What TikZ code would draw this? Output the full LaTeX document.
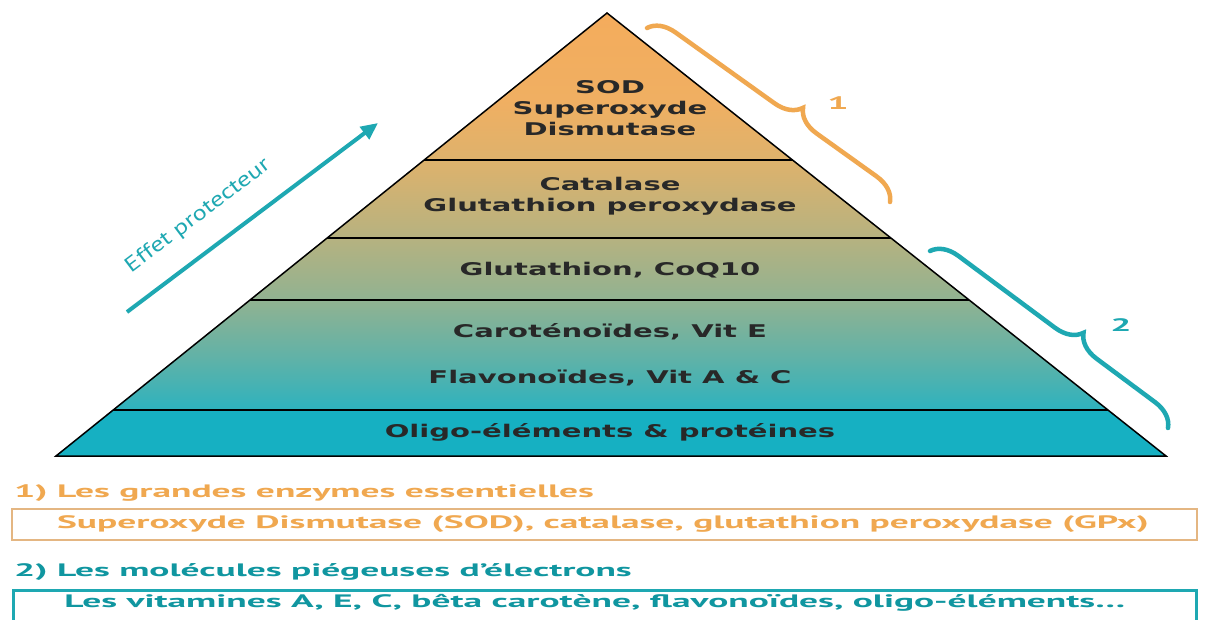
\documentclass[tikz,border=0pt]{standalone}
\usepackage{fontspec}
\usepackage{xcolor}
\usepackage{tikz}
\usetikzlibrary{calc,decorations.pathreplacing,arrows.meta}
\newfontfamily\pyrfont[FakeStretch=1.66]{DejaVu Sans}
\newfontfamily\legfont[FakeStretch=2.08]{PT Sans}
\newfontfamily\arrfont[FakeStretch=1.25]{PT Sans}
\definecolor{pyrtop}{RGB}{244,172,92}
\definecolor{pyrsod}{RGB}{240,175,98}
\definecolor{pyrcat}{RGB}{222,178,108}
\definecolor{pyrglu}{RGB}{182,178,128}
\definecolor{pyrcar}{RGB}{145,178,145}
\definecolor{pyrfla}{RGB}{95,178,168}
\definecolor{pyrlow}{RGB}{45,178,190}
\definecolor{pyrbase}{RGB}{22,176,194}
\definecolor{enzorange}{RGB}{240,168,80}
\definecolor{boxorange}{RGB}{228,182,130}
\definecolor{molteal}{RGB}{16,150,160}
\definecolor{boxteal}{RGB}{30,168,178}
\definecolor{textgrey}{RGB}{40,40,40}
\pgfdeclareverticalshading{pyrfade}{100bp}{color(0bp)=(pyrlow); color(25bp)=(pyrlow);
    color(31.4bp)=(pyrfla); color(38.9bp)=(pyrcar); color(46.7bp)=(pyrglu);
    color(56.5bp)=(pyrcat); color(64bp)=(pyrsod); color(75bp)=(pyrtop); color(100bp)=(pyrtop)}

\begin{document}
\begin{tikzpicture}[x=1pt,y=-1pt,
        level/.style={font=\pyrfont\bfseries\fontsize{17.5}{21}\selectfont,text=textgrey,align=center},
        bandline/.style={line width=1.2pt,black},
        bracestyle/.style={decorate,decoration={brace,amplitude=26pt,aspect=0.58},line width=4.5pt,line cap=round},
        legtext/.style={font=\legfont\bfseries\fontsize{18}{20}\selectfont}]
            \useasboundingbox (0,0) rectangle (1209,619);
            \fill[white] (0,0) rectangle (1209,619);

            % pyramid corners and band ends
            \coordinate (apex) at (607,13);
            \coordinate (bl) at (56,456);
            \coordinate (br) at (1166,456);
            \foreach \name/\t in {a/0.3318,b/0.5079,c/0.6479,d/0.8962} {
                \coordinate (l\name) at ($(apex)!\t!(bl)$);
                \coordinate (r\name) at ($(apex)!\t!(br)$);
            }
            \shade[shading=pyrfade] (apex) -- (ld) -- (rd) -- cycle;
            \fill[pyrbase] (ld) -- (bl) -- (br) -- (rd) -- cycle;
            \foreach \name in {a,b,c,d} {
                \draw[bandline] (l\name) -- (r\name);
            }
            \draw[line width=1.5pt,line join=miter] (apex) -- (bl) -- (br) -- cycle;

            % levels
            \node[level] (sod) at (610,108) {SOD\\Superoxyde\\Dismutase};
            \node[level] (cat) at (610,196) {Catalase\\Glutathion peroxydase};
            \node[level] (glu) at (610,270) {Glutathion, CoQ10};
            \node[level] (car) at (610,332) {Caroténoïdes, Vit E};
            \node[level] (fla) at (610,378) {Flavonoïdes, Vit A \& C};
            \node[level] (oli) at (610,432) {Oligo-éléments \& protéines};

            % arrow on the left
            \coordinate (arrtail) at (127,312);
            \coordinate (arrtip) at (378,123);
            \draw[boxteal,line width=4pt,-{Triangle[length=17pt,width=15pt]}] (arrtail) -- (arrtip);
            \node[rotate=37,text=boxteal,font=\arrfont\fontsize{21}{22}\selectfont] (effet) at (198,216) {Effet protecteur};

            % braces
            \coordinate (b1s) at (647,28);
            \coordinate (b1e) at (890,202);
            \draw[bracestyle,enzorange] (b1s) -- (b1e);
            \node[text=enzorange,font=\legfont\bfseries\fontsize{18}{20}\selectfont] (one) at (838,103) {1};
            \coordinate (b2s) at (930,251);
            \coordinate (b2e) at (1168,428);
            \draw[bracestyle,boxteal] (b2s) -- (b2e);
            \node[text=boxteal,font=\legfont\bfseries\fontsize{18}{20}\selectfont] (two) at (1121,325) {2};

            % legend
            \node[legtext,text=enzorange,anchor=west,inner sep=0pt] (head1) at (14,493) {1) Les grandes enzymes essentielles};
            \draw[boxorange,line width=2.5pt] (12,509) rectangle (1197,540);
            \node[legtext,text=enzorange] (txt1) at (603,524) {Superoxyde Dismutase (SOD), catalase, glutathion peroxydase (GPx)};
            \node[legtext,text=molteal,anchor=west,inner sep=0pt] (head2) at (14,572) {2) Les molécules piégeuses d’électrons};
            \draw[boxteal,line width=3pt] (13,590) rectangle (1196,645);
            \node[legtext,text=molteal] (txt2) at (595,603) {Les vitamines A, E, C, bêta carotène, flavonoïdes, oligo-éléments\dots};
        \end{tikzpicture}
\end{document}
